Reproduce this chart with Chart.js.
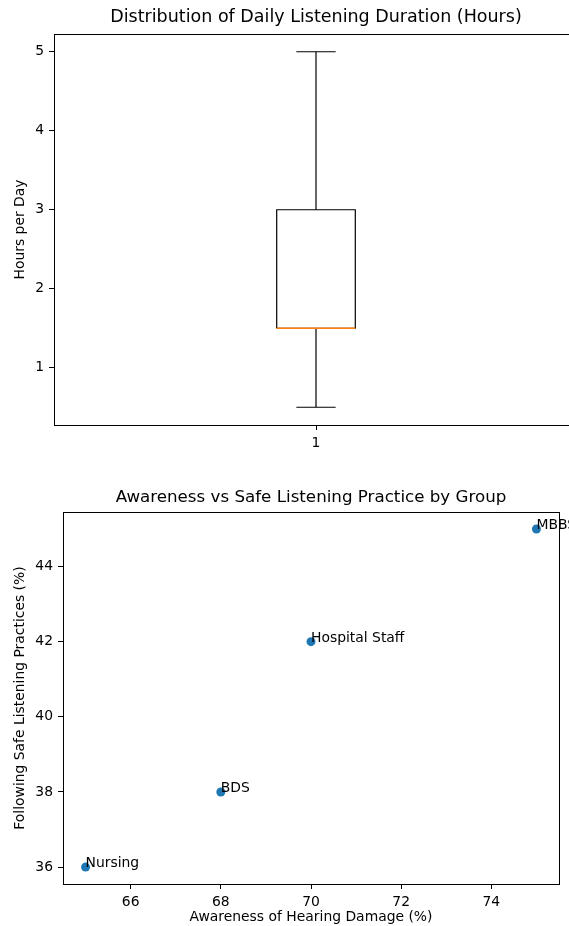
<!DOCTYPE html>
<html lang="en">
<head>
  <meta charset="UTF-8" />
  <title>Listening Duration and Awareness</title>
  <style>
    html, body {
      margin: 0;
      padding: 0;
      background-color: white;
      overflow: hidden;
      width: 569px;
      height: 926px;
    }
    #box-chart {
      position: absolute;
      left: 0;
      top: 0;
    }
    #scatter-chart {
      position: absolute;
      left: 0;
      top: 460px;
    }
  </style>
  <script src="https://cdn.jsdelivr.net/npm/chart.js"></script>
</head>
<body>
  <canvas id="box-chart" width="600" height="460"></canvas>
  <canvas id="scatter-chart" width="569" height="466"></canvas>

  <script>
    // Box plot values (hours per day)
    const boxPositions = [1];
    const boxWhiskerLow = [0.5];
    const boxQ1 = [1.5];
    const boxMedian = [1.5];
    const boxQ3 = [3.0];
    const boxWhiskerHigh = [5.0];
    const boxYTicks = [1, 2, 3, 4, 5];

    // Scatter values by group
    const groups = ['Nursing', 'BDS', 'Hospital Staff', 'MBBS'];
    const awareness = [65, 68, 70, 75];
    const safePractice = [36, 38, 42, 45];
    const scatterXTicks = [66, 68, 70, 72, 74];
    const scatterYTicks = [36, 38, 40, 42, 44];

    const FONT = 'DejaVu Sans';
    Chart.defaults.font.family = FONT;
    Chart.defaults.color = '#000';

    const tickFont = { family: FONT, size: 13.9 };
    const titleFont = { family: FONT, size: 17.5, weight: 'normal' };
    const titleFont2 = { family: FONT, size: 16.7, weight: 'normal' };

    // Draw the matplotlib style frame around the plot area.
    const framePlugin = {
      id: 'framePlugin',
      afterDraw: (chart) => {
        const a = chart.chartArea;
        const ctx = chart.ctx;
        ctx.save();
        ctx.strokeStyle = '#000';
        ctx.lineWidth = 1;
        ctx.strokeRect(Math.round(a.left) + 0.5, Math.round(a.top) + 0.5,
          Math.round(a.right - a.left), Math.round(a.bottom - a.top));
        ctx.restore();
      }
    };

    function axisStyle(extra) {
      return Object.assign({
        grid: { drawOnChartArea: false, drawTicks: true, tickLength: 5, tickColor: '#000' },
        border: { display: false },
        ticks: { font: tickFont, color: '#000', padding: 5 }
      }, extra);
    }

    // ---------- Box plot ----------
    const boxWidth = 0.15;
    const capWidth = 0.075;
    const lineDs = (data, color, width) => ({
      type: 'scatter',
      data: data,
      showLine: true,
      pointRadius: 0,
      borderColor: color || '#000',
      borderWidth: width || 1.2,
      fill: false
    });

    // first dataset is painted last (on top), so the median goes first
    const boxDatasets = [];
    boxPositions.forEach((p, i) => {
      const l = p - boxWidth / 2, r = p + boxWidth / 2;
      const cl = p - capWidth / 2, cr = p + capWidth / 2;
      boxDatasets.push(lineDs([{ x: l, y: boxMedian[i] }, { x: r, y: boxMedian[i] }], '#ff7f0e', 1.6));
      boxDatasets.push(lineDs([
        { x: l, y: boxQ1[i] }, { x: l, y: boxQ3[i] }, { x: r, y: boxQ3[i] },
        { x: r, y: boxQ1[i] }, { x: l, y: boxQ1[i] }
      ]));
      boxDatasets.push(lineDs([{ x: p, y: boxQ1[i] }, { x: p, y: boxWhiskerLow[i] }]));
      boxDatasets.push(lineDs([{ x: p, y: boxQ3[i] }, { x: p, y: boxWhiskerHigh[i] }]));
      boxDatasets.push(lineDs([{ x: cl, y: boxWhiskerLow[i] }, { x: cr, y: boxWhiskerLow[i] }]));
      boxDatasets.push(lineDs([{ x: cl, y: boxWhiskerHigh[i] }, { x: cr, y: boxWhiskerHigh[i] }]));
    });

    new Chart(document.getElementById('box-chart').getContext('2d'), {
      type: 'scatter',
      data: { datasets: boxDatasets },
      options: {
        responsive: false,
        animation: false,
        layout: { padding: { left: 0, right: 22, top: 0, bottom: 0 } },
        plugins: {
          legend: { display: false },
          tooltip: { enabled: false },
          title: {
            display: true,
            fullSize: false,
            text: 'Distribution of Daily Listening Duration (Hours)',
            font: titleFont,
            color: '#000',
            padding: { top: 7, bottom: 6 }
          }
        },
        scales: {
          x: axisStyle({
            type: 'linear',
            min: 0.5,
            max: 1.5,
            afterBuildTicks: (s) => { s.ticks = boxPositions.map(v => ({ value: v })); },
            afterFit: (s) => { s.height = 35; }
          }),
          y: axisStyle({
            type: 'linear',
            min: 0.275,
            max: 5.225,
            afterBuildTicks: (s) => { s.ticks = boxYTicks.map(v => ({ value: v })); },
            afterFit: (s) => { s.width = 54; },
            title: { display: true, text: 'Hours per Day', font: tickFont, color: '#000', padding: { top: 12, bottom: 0 } }
          })
        }
      },
      plugins: [framePlugin]
    });

    // ---------- Scatter ----------
    const pointLabelPlugin = {
      id: 'pointLabelPlugin',
      afterDatasetsDraw: (chart) => {
        const ctx = chart.ctx;
        const meta = chart.getDatasetMeta(0);
        ctx.save();
        ctx.font = '13.9px ' + FONT;
        ctx.fillStyle = '#000';
        ctx.textAlign = 'left';
        ctx.textBaseline = 'alphabetic';
        meta.data.forEach((pt, i) => {
          ctx.fillText(groups[i], pt.x, pt.y);
        });
        ctx.restore();
      }
    };

    new Chart(document.getElementById('scatter-chart').getContext('2d'), {
      type: 'scatter',
      data: {
        datasets: [{
          data: awareness.map((a, i) => ({ x: a, y: safePractice[i] })),
          backgroundColor: '#1f77b4',
          borderColor: '#1f77b4',
          pointRadius: 4.5,
          pointBorderWidth: 0
        }]
      },
      options: {
        responsive: false,
        animation: false,
        clip: false,
        layout: { padding: { left: 0, right: 10, top: 0, bottom: 0 } },
        plugins: {
          legend: { display: false },
          tooltip: { enabled: false },
          title: {
            display: true,
            fullSize: false,
            text: 'Awareness vs Safe Listening Practice by Group',
            font: titleFont2,
            color: '#000',
            padding: { top: 28, bottom: 4 }
          }
        },
        scales: {
          x: axisStyle({
            type: 'linear',
            min: 64.5,
            max: 75.5,
            afterBuildTicks: (s) => { s.ticks = scatterXTicks.map(v => ({ value: v })); },
            afterFit: (s) => { s.height = 42; },
            title: { display: true, text: 'Awareness of Hearing Damage (%)', font: tickFont, color: '#000', padding: { top: 0, bottom: 0 } }
          }),
          y: axisStyle({
            type: 'linear',
            min: 35.55,
            max: 45.45,
            afterBuildTicks: (s) => { s.ticks = scatterYTicks.map(v => ({ value: v })); },
            afterFit: (s) => { s.width = 63; },
            title: { display: true, text: 'Following Safe Listening Practices (%)', font: tickFont, color: '#000', padding: { top: 12, bottom: 0 } }
          })
        }
      },
      plugins: [framePlugin, pointLabelPlugin]
    });
  </script>
</body>
</html>
